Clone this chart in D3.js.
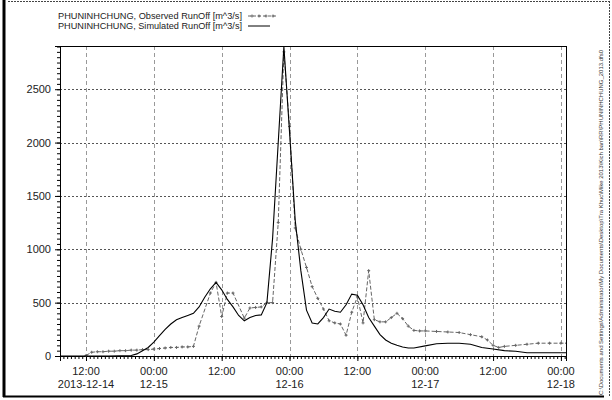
<!DOCTYPE html>
<html>
<head>
<meta charset="utf-8">
<script src="https://cdn.jsdelivr.net/npm/d3@7"></script>
<style>
  body { margin: 0; background: #fff; }
  svg { display: block; font-family: "Liberation Sans", Arial, sans-serif; }
</style>
</head>
<body>
<div id="chart"></div>
<script>
// hours counted from 2013-12-14 00:00
var obsHour = [12, 13, 14, 15, 16, 17, 18, 19, 20, 21, 22, 23,
  24, 25, 26, 27, 28, 29, 30, 31, 32, 34, 35, 36, 37, 38, 40, 41, 42, 43, 44, 45,
  46, 47, 48, 49, 50, 51, 52, 53, 54, 55, 56, 57, 58, 59, 60, 61, 62, 63, 64, 65,
  66, 67, 68, 69, 70, 71, 72, 74, 76, 78, 80, 82, 83, 84, 85, 86, 88, 90, 92, 94, 96, 97];
var obsValue = [5, 35, 40, 40, 45, 45, 50, 50, 55, 55, 60, 60,
  65, 70, 75, 80, 80, 85, 85, 90, 280, 590, 690, 370, 590, 590, 355, 450, 455, 460, 500, 500,
  1250, 2850, 2150, 1200, 1000, 830, 650, 540, 440, 330, 310, 300, 195, 410, 555, 310, 800, 340, 320, 320,
  360, 400, 350, 280, 240, 235, 235, 230, 225, 220, 200, 180, 150, 100, 80, 90, 100, 110, 120, 120, 120, 120];

var simHour = [7, 12, 16, 20, 21, 22, 23, 24, 25, 26, 27, 28, 29, 30, 31, 32, 33, 34, 35,
  36, 37, 38, 39, 40, 41, 42, 43, 44, 45, 46, 47, 48, 49, 50, 51, 52, 53, 54, 55, 56, 57,
  58, 59, 60, 61, 62, 63, 64, 65, 66, 67, 68, 69, 70, 72, 74, 76, 78, 80, 82, 84, 86, 88,
  90, 92, 94, 96, 97];
var simValue = [0, 0, 0, 5, 20, 50, 80, 130, 190, 250, 300, 340, 360, 380, 400, 460, 550, 630, 690,
  620, 530, 460, 380, 330, 360, 380, 385, 500, 1100, 2000, 2900, 2100, 1275, 800, 430, 310, 300, 360, 440, 420, 410,
  480, 580, 570, 480, 360, 280, 200, 150, 120, 100, 85, 75, 75, 95, 115, 120, 120, 110, 80, 65, 50, 45,
  30, 30, 30, 30, 30];

var yTicks = [0, 500, 1000, 1500, 2000, 2500];
var xTickHours = [12, 24, 36, 48, 60, 72, 84, 96];
var xTickTime = ["12:00", "00:00", "12:00", "00:00", "12:00", "00:00", "12:00", "00:00"];
var xTickDate = ["2013-12-14", "12-15", "", "12-16", "", "12-17", "", "12-18"];

var legendLabels = ["PHUNINHCHUNG, Observed RunOff [m^3/s]", "PHUNINHCHUNG, Simulated RunOff [m^3/s]"];
var filePath = "C:\\Documents and Settings\\Administrator\\My Documents\\Desktop\\Tra Khuc\\Mike 2013\\Kich ban\\RR\\PHUNINHCHUNG_2013.dfs0";

var svgWidth = 612;
var svgHeight = 400;
var margin = { top: 46, right: 46, bottom: 44, left: 60 };
var width = svgWidth - margin.left - margin.right;
var height = svgHeight - margin.top - margin.bottom;

var t0 = new Date(2013, 11, 14, 0, 0);
function toDate(h) { return new Date(t0.getTime() + h * 3600000); }

var svg = d3.select("#chart").append("svg")
  .attr("width", svgWidth)
  .attr("height", svgHeight);

// page frame
svg.append("line").attr("x1", 4).attr("x2", 4).attr("y1", 0).attr("y2", 397)
  .attr("stroke", "#000").attr("stroke-width", 3);
svg.append("line").attr("x1", 3).attr("x2", 604).attr("y1", 396.5).attr("y2", 396.5)
  .attr("stroke", "#000").attr("stroke-width", 2);
svg.append("line").attr("x1", 8).attr("x2", 609).attr("y1", 1.5).attr("y2", 1.5)
  .attr("stroke", "#444").attr("stroke-dasharray", "2,1");
svg.append("line").attr("x1", 609.5).attr("x2", 609.5).attr("y1", 1).attr("y2", 396)
  .attr("stroke", "#444").attr("stroke-dasharray", "2,1");

svg.append("text")
  .attr("transform", "translate(603, 395) rotate(-90)")
  .attr("font-size", 5.5)
  .attr("fill", "#333")
  .attr("textLength", 345)
  .attr("lengthAdjust", "spacingAndGlyphs")
  .text(filePath);

var chartGroup = svg.append("g")
  .attr("transform", `translate(${margin.left}, ${margin.top})`);

var xScale = d3.scaleTime()
  .domain([toDate(7.4), toDate(96.9)])
  .range([0, width]);
var yScale = d3.scaleLinear()
  .domain([0, 2905])
  .range([height, 0]);

// grid
chartGroup.append("g").selectAll("line")
  .data(yTicks.slice(1))
  .enter().append("line")
  .attr("x1", 0).attr("x2", width)
  .attr("y1", d => Math.round(yScale(d)) + 0.5)
  .attr("y2", d => Math.round(yScale(d)) + 0.5)
  .attr("stroke", "#555").attr("stroke-dasharray", "2,2");
chartGroup.append("g").selectAll("line")
  .data(xTickHours)
  .enter().append("line")
  .attr("x1", d => Math.round(xScale(toDate(d))) + 0.5)
  .attr("x2", d => Math.round(xScale(toDate(d))) + 0.5)
  .attr("y1", 0).attr("y2", height)
  .attr("stroke", "#999").attr("stroke-dasharray", "4,3");

// minor ticks
var minorY = d3.range(0, 2901, 50);
var minorX = d3.range(12 - 6 * 2 / 3, 97, 2 / 3);

var yAxis = chartGroup.append("g")
  .call(d3.axisLeft(yScale).tickValues(minorY).tickSize(3).tickFormat(""));
var yMajor = chartGroup.append("g")
  .call(d3.axisLeft(yScale).tickValues(yTicks).tickSize(5).tickPadding(4).tickFormat(d3.format("d")));
yMajor.selectAll("text").attr("font-size", 11).attr("fill", "#222")
  .attr("font-family", "Liberation Sans, Arial, sans-serif");

var xAxis = chartGroup.append("g")
  .attr("transform", `translate(0, ${height})`)
  .call(d3.axisBottom(xScale).tickValues(minorX.map(toDate)).tickSize(3).tickFormat(""));
var xMajor = chartGroup.append("g")
  .attr("transform", `translate(0, ${height})`)
  .call(d3.axisBottom(xScale).tickValues(xTickHours.map(toDate)).tickSize(5).tickFormat(""));

[yAxis, yMajor, xAxis, xMajor].forEach(function(a) {
  a.select(".domain").attr("stroke", "#000");
  a.selectAll(".tick line").attr("stroke", "#000");
});

var xLabels = chartGroup.append("g").selectAll("g")
  .data(xTickHours)
  .enter().append("g")
  .attr("transform", (d, i) => `translate(${xScale(toDate(d))}, ${height})`);
xLabels.append("text")
  .attr("y", 19).attr("text-anchor", "middle")
  .attr("font-size", 11).attr("fill", "#222")
  .text((d, i) => xTickTime[i]);
xLabels.append("text")
  .attr("y", 32).attr("text-anchor", "middle")
  .attr("font-size", 11).attr("fill", "#222")
  .text((d, i) => xTickDate[i]);

// plot frame top/right
chartGroup.append("line").attr("x1", 0).attr("x2", width).attr("y1", 0.5).attr("y2", 0.5).attr("stroke", "#000");
chartGroup.append("line").attr("x1", width + 0.5).attr("x2", width + 0.5).attr("y1", 0).attr("y2", height).attr("stroke", "#000");

chartGroup.append("clipPath").attr("id", "clip")
  .append("rect").attr("width", width).attr("height", height + 1);

var obsData = obsHour.map((h, i) => ({ t: toDate(h), v: obsValue[i] }));
var simData = simHour.map((h, i) => ({ t: toDate(h), v: simValue[i] }));

var line = d3.line()
  .x(d => xScale(d.t))
  .y(d => yScale(d.v));

var plotGroup = chartGroup.append("g").attr("clip-path", "url(#clip)");

plotGroup.append("path")
  .datum(obsData)
  .attr("d", line)
  .attr("fill", "none")
  .attr("stroke", "#666")
  .attr("stroke-dasharray", "4,2");

plotGroup.append("g").selectAll("path")
  .data(obsData)
  .enter().append("path")
  .attr("d", d => `M${xScale(d.t) - 1.5},${yScale(d.v)}h3M${xScale(d.t)},${yScale(d.v) - 1.5}v3`)
  .attr("stroke", "#666");

plotGroup.append("path")
  .datum(simData)
  .attr("d", line)
  .attr("fill", "none")
  .attr("stroke", "#000")
  .attr("stroke-width", 1.1);

// legend
var legend = svg.append("g");
legend.selectAll("text")
  .data(legendLabels)
  .enter().append("text")
  .attr("x", 58)
  .attr("y", (d, i) => 19 + i * 10)
  .attr("font-size", 9.5)
  .attr("fill", "#222")
  .attr("textLength", 184)
  .attr("lengthAdjust", "spacingAndGlyphs")
  .text(d => d);
legend.append("line").attr("x1", 248).attr("x2", 277).attr("y1", 16).attr("y2", 16)
  .attr("stroke", "#666").attr("stroke-dasharray", "3,2");
legend.selectAll(".mk")
  .data([252, 259, 266, 273])
  .enter().append("path")
  .attr("d", d => `M${d - 1.5},16h3M${d},14.5v3`)
  .attr("stroke", "#666");
legend.append("line").attr("x1", 248).attr("x2", 270).attr("y1", 26).attr("y2", 26)
  .attr("stroke", "#000");
</script>
</body>
</html>
